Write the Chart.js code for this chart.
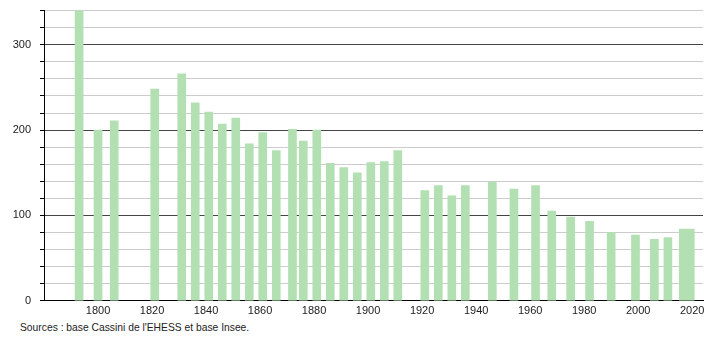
<!DOCTYPE html>
<html>
<head>
<meta charset="utf-8">
<script src="https://cdn.jsdelivr.net/npm/chart.js@4/dist/chart.umd.min.js"></script>
<style>
  body { margin:0; background:#fff; width:710px; height:340px; overflow:hidden; font-family:"Liberation Sans", Arial, sans-serif; }
  #wrap { position:absolute; left:0; top:-5px; width:710px; height:327px; }
  #src { position:absolute; left:20px; top:322px; font-size:10.3px; color:#222; }
</style>
</head>
<body>
<div id="wrap"><canvas id="popChart"></canvas></div>
<div id="src">Sources : base Cassini de l'EHESS et base Insee.</div>
<script>
// census years and population
const years = [1793, 1800, 1806, 1821, 1831, 1836, 1841, 1846, 1851, 1856, 1861, 1866,
  1872, 1876, 1881, 1886, 1891, 1896, 1901, 1906, 1911, 1921, 1926, 1931, 1936,
  1946, 1954, 1962, 1968, 1975, 1982, 1990, 1999, 2006, 2011];
const population = [342, 200, 211, 248, 266, 232, 221, 207, 214, 184, 197, 176,
  201, 187, 200, 161, 156, 150, 162, 163, 176, 129, 135, 123, 135,
  139, 131, 135, 105, 98, 93, 80, 77, 72, 74];
// last bar is drawn wider in the original
const lastYears = [2018];
const lastPopulation = [84];

const xTicks = [1800, 1820, 1840, 1860, 1880, 1900, 1920, 1940, 1960, 1980, 2000, 2020];
const yLabels = [0, 100, 200, 300];

const barColor = 'rgb(178,224,178)';

new Chart(document.getElementById('popChart').getContext('2d'), {
  type: 'bar',
  data: {
    datasets: [{
      data: years.map((y, i) => ({ x: y, y: population[i] })),
      backgroundColor: barColor,
      barThickness: 8,
      grouped: false
    }, {
      data: lastYears.map((y, i) => ({ x: y, y: lastPopulation[i] })),
      backgroundColor: barColor,
      barThickness: 15,
      grouped: false
    }]
  },
  options: {
    responsive: true,
    maintainAspectRatio: false,
    devicePixelRatio: 1,
    animation: false,
    layout: { padding: { top: 0, right: 7, left: 0, bottom: 0 } },
    plugins: { legend: { display: false }, tooltip: { enabled: false } },
    scales: {
      x: {
        type: 'linear',
        min: 1780,
        max: 2024,
        offset: false,
        border: { color: '#000', width: 1 },
        grid: { display: false, drawTicks: false },
        afterBuildTicks: scale => { scale.ticks = xTicks.map(v => ({ value: v })); },
        ticks: {
          autoSkip: false,
          maxRotation: 0,
          padding: 4,
          color: '#222',
          font: { family: 'Liberation Sans', size: 11 },
          callback: v => String(v)
        }
      },
      y: {
        min: 0,
        max: 340,
        border: { color: '#000', width: 1 },
        grid: {
          color: ctx => (ctx.tick && ctx.tick.value % 100 === 0) ? '#444' : '#ccc',
          tickColor: '#000',
          tickLength: 4
        },
        ticks: {
          stepSize: 20,
          autoSkip: false,
          padding: 9,
          color: '#222',
          font: { family: 'Liberation Sans', size: 11 },
          callback: v => yLabels.includes(v) ? String(v) : ''
        },
        afterFit: scale => { scale.width = 44; }
      }
    }
  }
});
</script>
</body>
</html>
